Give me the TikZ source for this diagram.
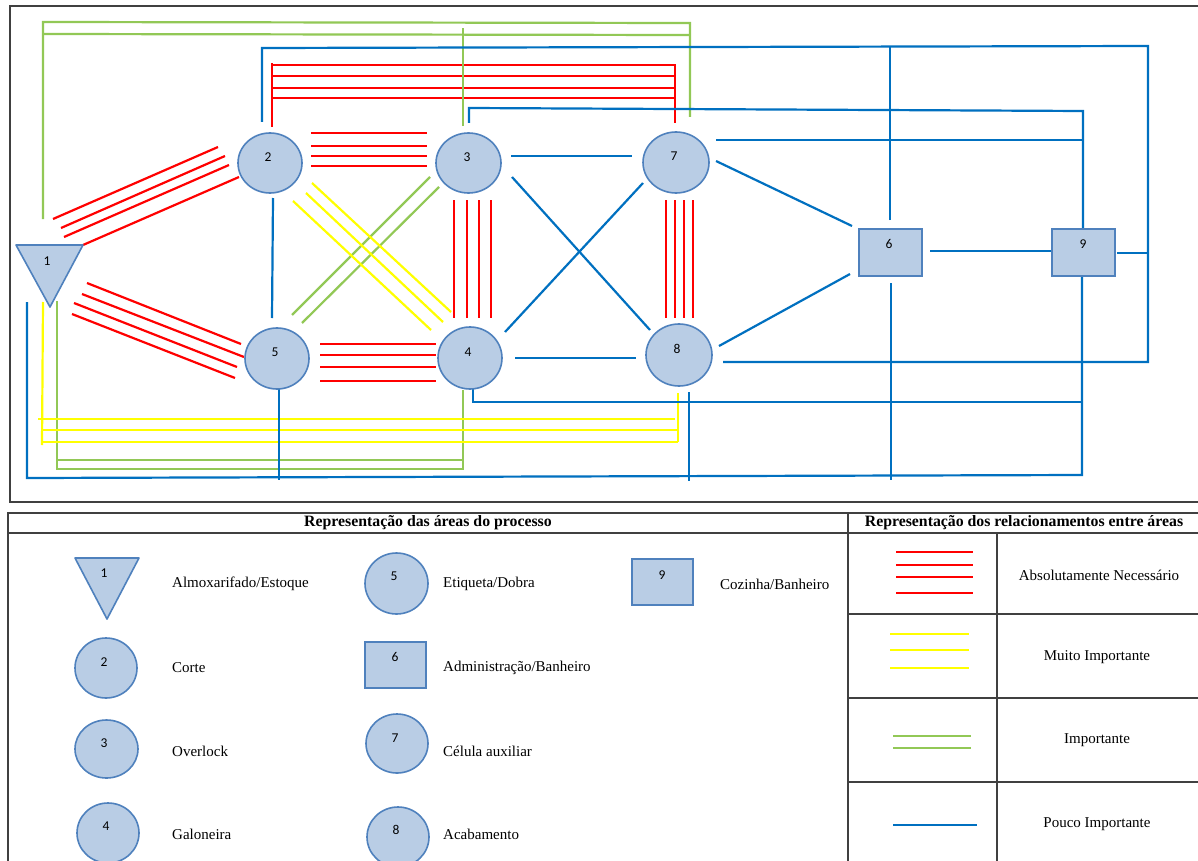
\documentclass[tikz,border=0pt]{standalone}
\usepackage{fontspec}
\setmainfont{Liberation Serif}
\newfontfamily\numfont{Carlito}
\usetikzlibrary{shapes.geometric}
\definecolor{shfill}{RGB}{185,205,229}
\definecolor{shdraw}{RGB}{79,129,189}
\definecolor{redc}{RGB}{255,0,0}
\definecolor{yelc}{RGB}{255,255,0}
\definecolor{grnc}{RGB}{146,200,86}
\definecolor{bluc}{RGB}{0,112,192}
\definecolor{framec}{RGB}{64,64,64}
\begin{document}
\begin{tikzpicture}[x=1pt,y=-1pt,
  redln/.style={draw=redc,line width=2.2pt},
  yelln/.style={draw=yelc,line width=2.2pt},
  grnln/.style={draw=grnc,line width=2.2pt},
  bluln/.style={draw=bluc,line width=2.2pt},
  circ/.style={ellipse,draw=shdraw,fill=shfill,line width=1.6pt,inner sep=0pt},
  sqr/.style={rectangle,draw=shdraw,fill=shfill,line width=1.6pt,inner sep=0pt},
  tri/.style={draw=shdraw,fill=shfill,line width=1.6pt,line join=round},
  num/.style={font=\numfont\fontsize{13.5}{15}\selectfont,inner sep=0pt},
  txt/.style={font=\fontsize{15}{17}\selectfont,inner sep=0pt},
  hdr/.style={font=\bfseries\fontsize{15.8}{18}\selectfont,inner sep=0pt},
  frm/.style={draw=framec,line width=1.3pt}
]
\useasboundingbox (0,0) rectangle (1198,861);
\fill[white] (0,0) rectangle (1198,861);

% frame of the layout
\draw[frm] (1199,502) -- (10,502) -- (10,6) -- (1199,6);

% ---------- red (absolutamente necessario)
\draw[redln] (53,219) -- (218,147);
\draw[redln] (61,228) -- (225,156);
\draw[redln] (64,237) -- (229,165);
\draw[redln] (83,245) -- (239,177);
\draw[redln] (87,283) -- (241,344);
\draw[redln] (82,294) -- (244,357);
\draw[redln] (74,303) -- (237,367);
\draw[redln] (72,314) -- (235,378);
\foreach \y in {133,146,156,166} \draw[redln] (311,\y) -- (427,\y);
\foreach \y in {344,355,367,381} \draw[redln] (320,\y) -- (436,\y);
\foreach \x in {454,467,479,491} \draw[redln] (\x,200) -- (\x,318);
\foreach \x in {666,675,684,693} \draw[redln] (\x,200) -- (\x,318);
\draw[redln] (272,127) -- (272,63);
\draw[redln] (272,65) -- (675,65) -- (675,123);
\foreach \y in {76,88,98} \draw[redln] (272,\y) -- (675,\y);

% ---------- green (importante)
\draw[grnln] (43,219) -- (43,22) -- (690,23) -- (690,117);
\draw[grnln] (43,34) -- (689,35);
\draw[grnln] (463,126) -- (463,28);
\draw[grnln] (430,177) -- (292,315);
\draw[grnln] (439,187) -- (302,323);
\draw[grnln] (57,301) -- (57,469) -- (463,469) -- (463,390);
\draw[grnln] (57,460) -- (464,460);

% ---------- yellow (muito importante)
\draw[yelln] (293,201) -- (431,330);
\draw[yelln] (306,193) -- (443,322);
\draw[yelln] (312,183) -- (451,312);
\draw[yelln] (43,302) -- (42,445);
\draw[yelln] (38,419) -- (675,419);
\draw[yelln] (42,430) -- (679,430);
\draw[yelln] (42,442) -- (678,442);
\draw[yelln] (678,393) -- (678,442);

% ---------- blue (pouco importante)
\draw[bluln] (262,122) -- (262,48) -- (1148,46) -- (1148,362) -- (723,362);
\draw[bluln] (890,220) -- (890,47);
\draw[bluln] (1117,253) -- (1148,253);
\draw[bluln] (469,123) -- (469,108) -- (1083,111) -- (1083,229);
\draw[bluln] (716,140) -- (1083,140);
\draw[bluln] (716,161) -- (852,226);
\draw[bluln] (511,156) -- (632,156);
\draw[bluln] (512,177) -- (650,330);
\draw[bluln] (505,332) -- (643,183);
\draw[bluln] (515,358) -- (636,358);
\draw[bluln] (719,346) -- (850,274);
\draw[bluln] (930,251) -- (1052,251);
\draw[bluln] (273,198) -- (272,318);
\draw[bluln] (279,389) -- (279,480);
\draw[bluln] (27,302) -- (27,478) -- (1082,475) -- (1082,276);
\draw[bluln] (891,283) -- (891,480);
\draw[bluln] (689,392) -- (689,481);
\draw[bluln] (473,389) -- (473,402) -- (1082,402);

% ---------- areas
\draw[tri] (16,245) -- (83,245) -- (50,307) -- cycle;
\coordinate (n1) at (50,266);
\node[num] (l1) at (47,261) {1};
\node[circ,minimum width=64pt,minimum height=60pt] (n2) at (270,163) {};
\node[num] (l2) at (268,157) {2};
\node[circ,minimum width=65pt,minimum height=60pt] (n3) at (468.5,163) {};
\node[num] (l3) at (467,157) {3};
\node[circ,minimum width=66pt,minimum height=61pt] (n7) at (676,162.5) {};
\node[num] (l7) at (674,156) {7};
\node[circ,minimum width=64pt,minimum height=61pt] (n5) at (277,358.5) {};
\node[num] (l5) at (275,352) {5};
\node[circ,minimum width=64pt,minimum height=62pt] (n4) at (470,358) {};
\node[num] (l4) at (468,352) {4};
\node[circ,minimum width=66pt,minimum height=62pt] (n8) at (679,355) {};
\node[num] (l8) at (677,349) {8};
\node[sqr,minimum width=63pt,minimum height=47pt] (n6) at (890.5,252.5) {};
\node[num] (l6) at (889,244) {6};
\node[sqr,minimum width=63pt,minimum height=47pt] (n9) at (1083.5,252.5) {};
\node[num] (l9) at (1083,244) {9};

% ---------- legend table
\draw[frm] (1199,513) -- (8,513) -- (8,862);
\draw[frm] (8,533) -- (1199,533);
\draw[frm] (848,513) -- (848,862);
\draw[frm] (997,533) -- (997,862);
\foreach \y in {614,698,782} \draw[frm] (848,\y) -- (1199,\y);
\node[hdr] (h1) at (428,523) {Representação das áreas do processo};
\node[hdr] (h2) at (1024,523) {Representação dos relacionamentos entre áreas};

\draw[tri] (75,558) -- (139,558) -- (107,619) -- cycle;
\node[num] (k1) at (104,573) {1};
\node[txt,anchor=west] (t1) at (172,584) {Almoxarifado/Estoque};
\node[circ,minimum width=62pt,minimum height=60pt] (c2) at (106,668) {};
\node[num] (k2) at (104,662) {2};
\node[txt,anchor=west] (t2) at (172,668) {Corte};
\node[circ,minimum width=63pt,minimum height=58pt] (c3) at (106.5,749) {};
\node[num] (k3) at (104,743) {3};
\node[txt,anchor=west] (t3) at (172,751) {Overlock};
\node[circ,minimum width=62pt,minimum height=60pt] (c4) at (108,833) {};
\node[num] (k4) at (106,826) {4};
\node[txt,anchor=west] (t4) at (172,834) {Galoneira};
\node[circ,minimum width=63pt,minimum height=61pt] (c5) at (396.5,583.5) {};
\node[num] (k5) at (394,576) {5};
\node[txt,anchor=west] (t5) at (443,584) {Etiqueta/Dobra};
\node[sqr,minimum width=61pt,minimum height=46pt] (c6) at (395.5,665) {};
\node[num] (k6) at (395,657) {6};
\node[txt,anchor=west] (t6) at (443,668) {Administração/Banheiro};
\node[circ,minimum width=62pt,minimum height=59pt] (c7) at (397,743.5) {};
\node[num] (k7) at (395,738) {7};
\node[txt,anchor=west] (t7) at (443,751) {Célula auxiliar};
\node[circ,minimum width=62pt,minimum height=60pt] (c8) at (398,837) {};
\node[num] (k8) at (396,830) {8};
\node[txt,anchor=west] (t8) at (443,834) {Acabamento};
\node[sqr,minimum width=61pt,minimum height=46pt] (c9) at (662.5,582) {};
\node[num] (k9) at (662,575) {9};
\node[txt,anchor=west] (t9) at (720,584) {Cozinha/Banheiro};

\foreach \y in {552,565,577,593} \draw[redln] (896,\y) -- (973,\y);
\foreach \y in {634,650,668} \draw[yelln] (890,\y) -- (969,\y);
\foreach \y in {736,748} \draw[grnln] (893,\y) -- (971,\y);
\draw[bluln] (893,825) -- (977,825);
\node[txt] (r1) at (1099,575) {Absolutamente Necessário};
\node[txt] (r2) at (1097,657) {Muito Importante};
\node[txt] (r3) at (1097,740) {Importante};
\node[txt] (r4) at (1097,824) {Pouco Importante};
\end{tikzpicture}
\end{document}
